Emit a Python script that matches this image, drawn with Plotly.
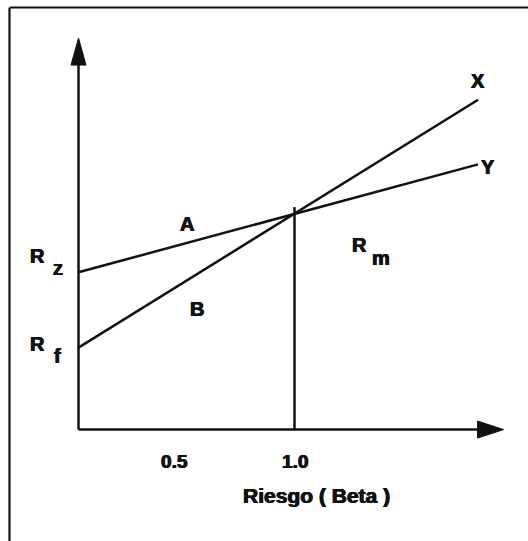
import plotly.graph_objects as go

# ---- data ----
betas = [0.0, 1.0, 1.85]           # risk (beta)
ret_X = [3.8, 10.0, 15.3]          # line X: from R_f through market point
ret_Y = [7.3, 10.0, 12.3]          # line Y: from R_z through market point
beta_m = 1.0
ret_m = 10.0
tick_vals = [0.5, 1.0]
tick_text = ["0.5", "1.0"]
x_title = "Riesgo ( Beta )"

W, H = 528, 541
X0_PX, XSCALE = 78.5, 216.0     # pixel of beta=0, px per beta unit
Y0_PX, YSCALE = 429.6, 21.56    # pixel of return=0, px per return unit

xr = [(0 - X0_PX) / XSCALE, (W - X0_PX) / XSCALE]
yr = [(Y0_PX - H) / YSCALE, (Y0_PX - 0) / YSCALE]

def dx(px):  # pixel length -> beta units
    return px / XSCALE

def dy(px):  # pixel length -> return units
    return px / YSCALE

x_tip = 1.968
y_tip = 18.16
vline_top = 10.32

BLACK = "#111111"
FONT = "Liberation Sans, Arial, sans-serif"

fig = go.Figure()
line_style = dict(color=BLACK, width=2.5)
fig.add_trace(go.Scatter(x=betas, y=ret_X, mode="lines", line=line_style, hoverinfo="skip"))
fig.add_trace(go.Scatter(x=betas, y=ret_Y, mode="lines", line=line_style, hoverinfo="skip"))
fig.add_trace(go.Scatter(x=[beta_m, beta_m], y=[0, vline_top], mode="lines", line=line_style, hoverinfo="skip"))
# axes
fig.add_trace(go.Scatter(x=[0, 0], y=[0, y_tip - dy(20)], mode="lines", line=line_style, hoverinfo="skip"))
fig.add_trace(go.Scatter(x=[0, x_tip - dx(20)], y=[0, 0], mode="lines", line=line_style, hoverinfo="skip"))

shapes = []
# arrowheads
ah_len, ah_half = 27, 7.5
shapes.append(dict(type="path", xref="x", yref="y",
                   path=f"M {0} {y_tip} L {-dx(ah_half)} {y_tip - dy(ah_len)} L {dx(ah_half)} {y_tip - dy(ah_len)} Z",
                   fillcolor=BLACK, line=dict(color=BLACK, width=1)))
shapes.append(dict(type="path", xref="x", yref="y",
                   path=f"M {x_tip} 0 L {x_tip - dx(26)} {dy(8.5)} L {x_tip - dx(26)} {-dy(8.5)} Z",
                   fillcolor=BLACK, line=dict(color=BLACK, width=1)))
# frame (top and left borders)
shapes.append(dict(type="line", xref="paper", yref="paper", x0=10 / W, x1=1.0, y0=1 - 7.5 / H, y1=1 - 7.5 / H,
                   line=dict(color=BLACK, width=2.2)))
shapes.append(dict(type="line", xref="paper", yref="paper", x0=9.5 / W, x1=9.5 / W, y0=0, y1=1 - 7.5 / H,
                   line=dict(color=BLACK, width=2.2)))

SHADOW = "0.6px 0 0 #111111, -0.4px 0 0 #111111, 0 0.4px 0 #111111"

def ann(text, px, py, size=20):
    return dict(text=text, xref="paper", yref="paper", x=px / W, y=1 - py / H,
                xanchor="center", yanchor="middle", showarrow=False,
                font=dict(family=FONT, size=size, color=BLACK, weight="bold", shadow=SHADOW))

annotations = [
    ann("X", 478, 81),
    ann("Y", 488, 167),
    ann("A", 187, 224),
    ann("B", 197, 309),
    ann("R", 359, 245), ann("m", 381, 258),
    ann("R", 37, 256), ann("z", 58, 268),
    ann("R", 37, 344), ann("f", 57, 356),
    ann(x_title, 316, 495, size=21),
]
for v, t in zip(tick_vals, tick_text):
    px = X0_PX + v * XSCALE
    if v == 0.5:
        px -= 12
    annotations.append(ann(t, px, 461, size=19))

fig.update_layout(
    width=W, height=H,
    margin=dict(l=0, r=0, t=0, b=0),
    paper_bgcolor="white", plot_bgcolor="white",
    showlegend=False,
    xaxis=dict(range=xr, visible=False, fixedrange=True),
    yaxis=dict(range=yr, visible=False, fixedrange=True),
    shapes=shapes,
    annotations=annotations,
)

fig.write_html("out.html", config={"displayModeBar": False},
               post_script="document.body.style.margin='0';document.body.style.overflow='hidden';")
